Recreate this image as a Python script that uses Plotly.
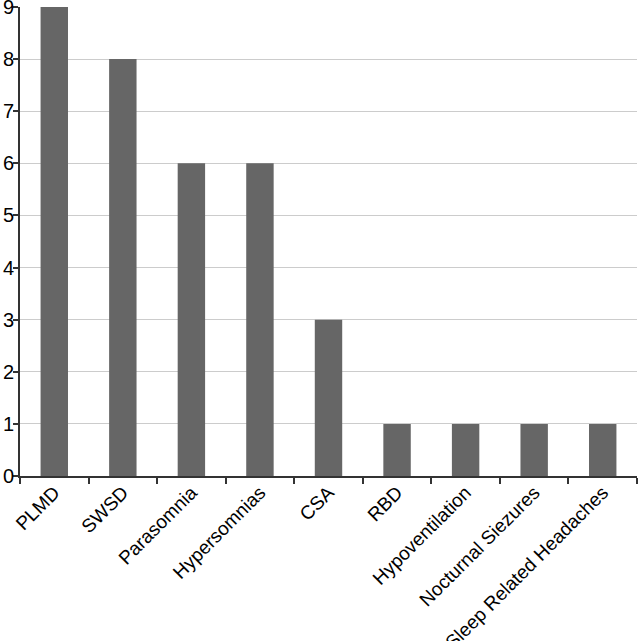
import plotly.graph_objects as go

categorias = ["PLMD", "SWSD", "Parasomnia", "Hypersomnias", "CSA", "RBD",
              "Hypoventilation", "Nocturnal Siezures", "Sleep Related Headaches"]
valores = [9, 8, 6, 6, 3, 1, 1, 1, 1]
y_ticks = list(range(0, 10))

fig = go.Figure()
fig.add_trace(go.Bar(
    x=categorias,
    y=valores,
    marker=dict(color="#666666", line=dict(width=0)),
))

fig.update_layout(
    width=638, height=641,
    margin=dict(l=20, r=1, t=7, b=165),
    plot_bgcolor="white", paper_bgcolor="white",
    bargap=0.6,
    showlegend=False,
    font=dict(family="Liberation Sans, Arial, sans-serif", color="#000000"),
)

fig.update_xaxes(
    tickangle=-45,
    tickfont=dict(size=19),
    automargin=False,
    ticklabelstandoff=-4,
    showline=True, linecolor="#333333", linewidth=2,
    ticks="outside", tickson="boundaries", ticklen=6, tickcolor="#333333", tickwidth=1.5,
    showgrid=False,
)
fig.update_yaxes(
    range=[0, 9],
    tickvals=y_ticks,
    tickfont=dict(size=20),
    automargin=False,
    ticklabelstandoff=-5,
    ticklabeloverflow="allow",
    showline=True, linecolor="#333333", linewidth=2,
    ticks="outside", ticklen=5, tickcolor="#333333", tickwidth=1.5,
    showgrid=True, gridcolor="#cccccc", gridwidth=1,
    zeroline=False,
)

# page body has a default 8px margin; drop it so the chart sits at 0,0
fig.write_html("out.html", config={"displayModeBar": False},
               post_script="document.body.style.margin='0';")
